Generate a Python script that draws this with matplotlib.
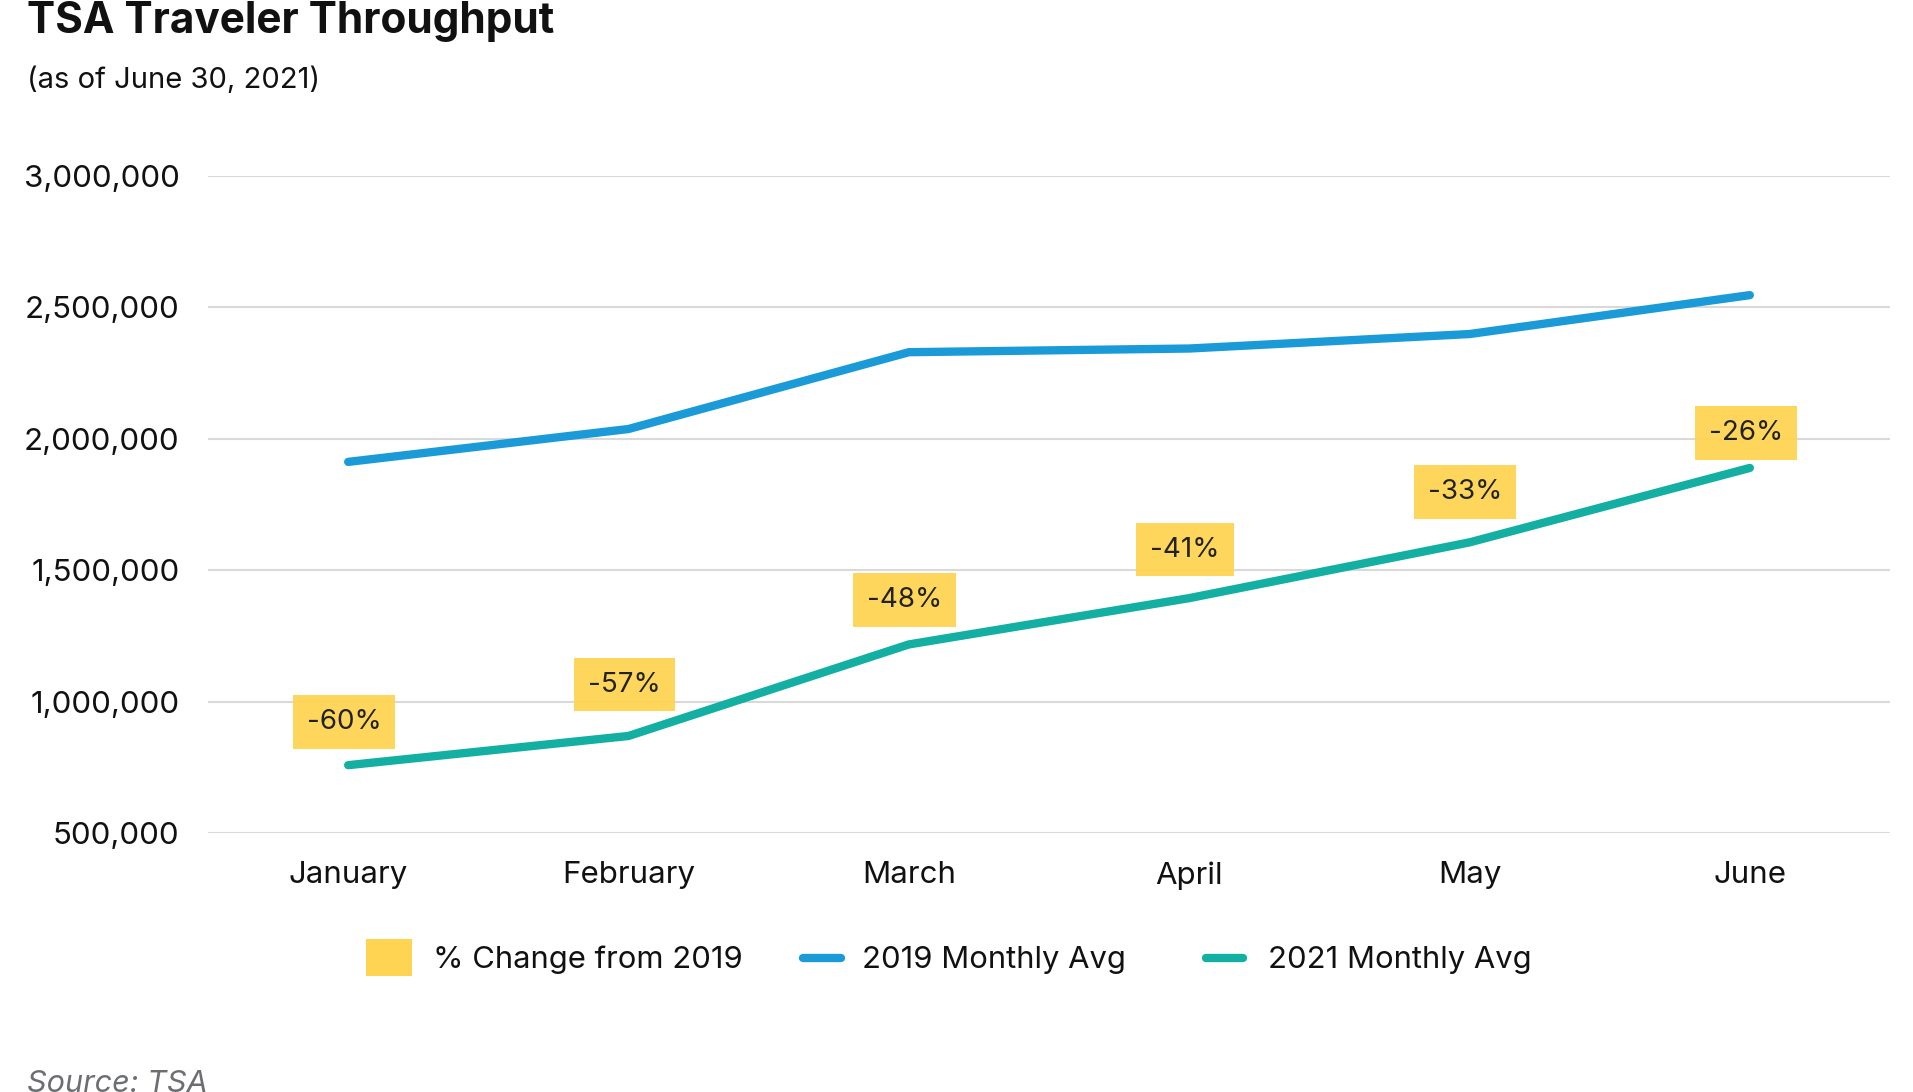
import matplotlib
matplotlib.use("Agg")
import matplotlib.pyplot as plt
from matplotlib.patches import Rectangle
from matplotlib.lines import Line2D
from matplotlib.ticker import FuncFormatter

plt.rcParams['font.family'] = ['Inter', 'DejaVu Sans']

months = ["January", "February", "March", "April", "May", "June"]
avg_2019 = [1912000, 2037000, 2329000, 2343000, 2398000, 2546000]
avg_2021 = [759000, 870000, 1218000, 1394000, 1606000, 1889000]
pct_labels = ["-60%", "-57%", "-48%", "-41%", "-33%", "-26%"]
yticks = [500000, 1000000, 1500000, 2000000, 2500000, 3000000]

label_offsets_pt = [31, 37, 32, 35, 36, 25]

BLUE = "#1a9bd7"
TEAL = "#12afa2"
YELLOW = "#fed452"
GRID = "#d9d9d9"

fig = plt.figure(figsize=(19.13, 10.92), dpi=100)
ax = fig.add_axes([208/1913, 1-833.3/1092, (1890-208)/1913, (833.3-175.7)/1092])

x = list(range(len(months)))
ax.plot(x, avg_2019, color=BLUE, lw=6, solid_capstyle='round', zorder=3, clip_on=False)
ax.plot(x, avg_2021, color=TEAL, lw=6, solid_capstyle='round', zorder=3, clip_on=False)

for xi, yi, lab, off in zip(x, avg_2021, pct_labels, label_offsets_pt):
    ax.annotate(lab, (xi, yi), xytext=(-3, off), textcoords='offset points',
                ha='center', va='center', fontsize=20, color='#222222',
                bbox=dict(boxstyle='square,pad=0.5', fc=YELLOW, ec='none', alpha=0.95),
                zorder=4)

ax.set_xlim(-0.5, 5.5)
ax.set_ylim(500000, 3000000)
ax.set_yticks(yticks)
ax.yaxis.set_major_formatter(FuncFormatter(lambda v, p: f"{int(v):,}"))
ax.set_xticks(x)
ax.set_xticklabels(months)
ax.grid(axis='y', color=GRID, lw=1.5, zorder=0)
ax.set_axisbelow(True)
for s in ax.spines.values():
    s.set_visible(False)
ax.tick_params(axis='both', length=0, labelsize=22.5, colors='#111111')
ax.tick_params(axis='y', pad=20.5)
ax.tick_params(axis='x', pad=20)

# Title and subtitle
fig.text(27/1913, 1-33/1092, "TSA Traveler Throughput", fontsize=30.5, fontweight='bold',
         va='baseline', ha='left', color='#111111')
fig.text(27/1913, 1-88/1092, "(as of June 30, 2021)", fontsize=21,
         va='baseline', ha='left', color='#111111')

# Legend (manual)
H, W = 1092, 1913
fig.patches.append(Rectangle((366/W, 1-976/H), 46/W, 37/H, transform=fig.transFigure,
                             fc=YELLOW, ec='none'))
fig.text(433/W, 1-968/H, "% Change from 2019", fontsize=22.3, va='baseline', ha='left', color='#111111')
fig.lines.append(Line2D([803/W, 841/W], [1-958/H, 1-958/H], transform=fig.transFigure,
                        color=BLUE, lw=6, solid_capstyle='round'))
fig.text(862/W, 1-968/H, "2019 Monthly Avg", fontsize=22.3, va='baseline', ha='left', color='#111111')
fig.lines.append(Line2D([1206/W, 1243/W], [1-958/H, 1-958/H], transform=fig.transFigure,
                        color=TEAL, lw=6, solid_capstyle='round'))
fig.text(1268/W, 1-968/H, "2021 Monthly Avg", fontsize=22.3, va='baseline', ha='left', color='#111111')

# Source
fig.text(27/W, 1-1092/H, "Source: TSA", fontsize=22, style='italic', va='baseline',
         ha='left', color='#6d6e71')

fig.savefig("out.png", dpi=100)
